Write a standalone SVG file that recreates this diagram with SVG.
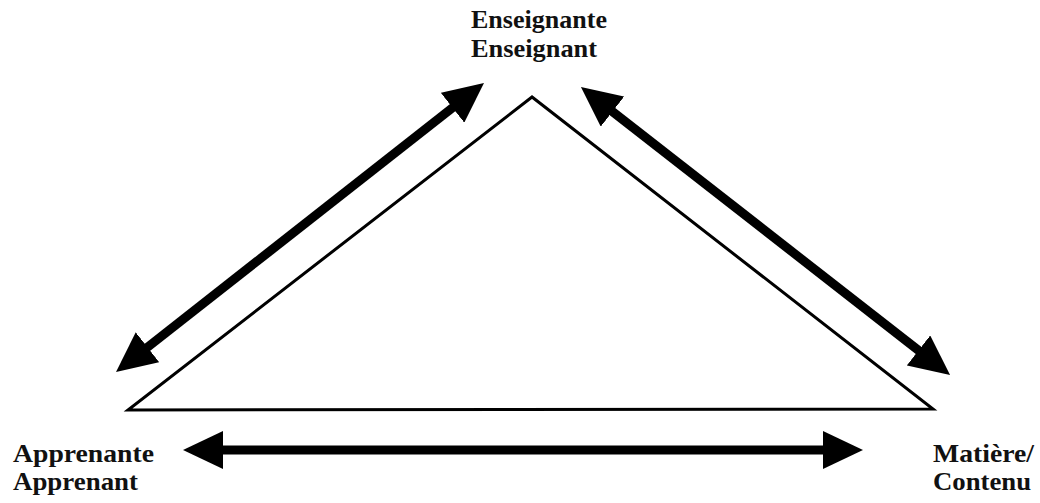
<svg xmlns="http://www.w3.org/2000/svg" width="1040" height="503" viewBox="0 0 1040 503">
<style>
.lbl{font-family:"Liberation Serif","Times New Roman",serif;font-weight:bold;fill:#111;font-size:25px}
.shaft{stroke:#000;stroke-width:9;fill:none}
</style>
<defs>
<marker id="ah" viewBox="0 0 40 38" refX="2" refY="19" markerWidth="40" markerHeight="38" markerUnits="userSpaceOnUse" orient="auto-start-reverse">
<path d="M0,0 L40,19 L0,38 z" fill="#000"/>
</marker>
</defs>
<rect width="1040" height="503" fill="#fff"/>
<g id="triangle">
<polygon points="532,97 128,410 933,409" fill="none" stroke="#000" stroke-width="3" stroke-linejoin="miter"/>
</g>
<g id="teacher">
<text class="lbl" x="471" y="28" textLength="136" lengthAdjust="spacingAndGlyphs">Enseignante</text>
<text class="lbl" x="471" y="57" textLength="126" lengthAdjust="spacingAndGlyphs">Enseignant</text>
</g>
<g id="learner">
<text class="lbl" x="13" y="462" textLength="141" lengthAdjust="spacingAndGlyphs">Apprenante</text>
<text class="lbl" x="13" y="490" textLength="125" lengthAdjust="spacingAndGlyphs">Apprenant</text>
</g>
<g id="content">
<text class="lbl" x="933" y="462" textLength="101" lengthAdjust="spacingAndGlyphs">Matière/</text>
<text class="lbl" x="933" y="490" textLength="98" lengthAdjust="spacingAndGlyphs">Contenu</text>
</g>
<g id="connectors">
<line class="shaft" x1="145.9" y1="348.5" x2="454.1" y2="106.5" marker-start="url(#ah)" marker-end="url(#ah)"/>
<line class="shaft" x1="610.9" y1="110.4" x2="920.1" y2="351.6" marker-start="url(#ah)" marker-end="url(#ah)"/>
<line class="shaft" x1="221" y1="450" x2="825" y2="450" marker-start="url(#ah)" marker-end="url(#ah)"/>
</g>
</svg>
